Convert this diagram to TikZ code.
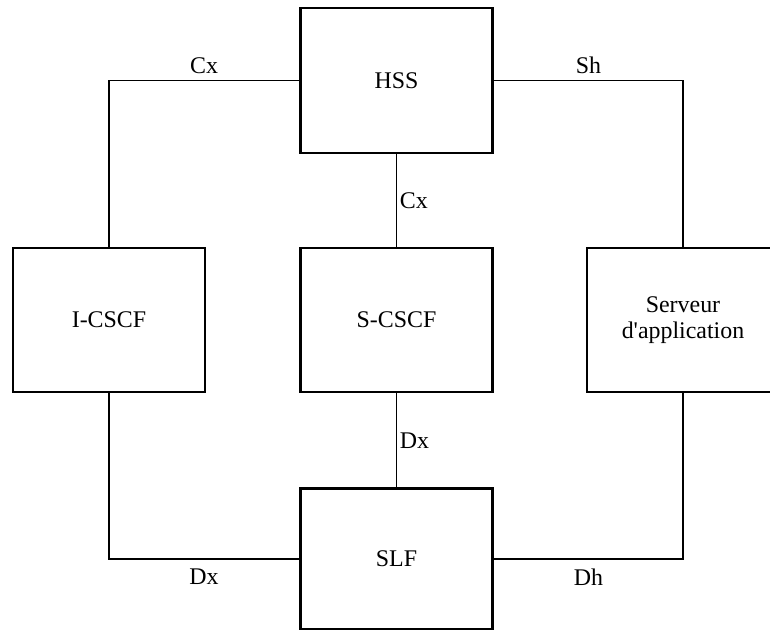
\documentclass[tikz,border=0pt]{standalone}
\usepackage{fontspec}
\setmainfont{Liberation Serif}
\usetikzlibrary{positioning}
\tikzset{
  entity/.style={draw, line width=2pt, minimum width=4.8cm, minimum height=3.625cm, align=center, font=\fontsize{17}{18.5}\selectfont},
  link/.style={line width=0.8pt},
  iface/.style={font=\fontsize{17}{18.5}\selectfont}
}

\begin{document}
\begin{tikzpicture}[x=0.025cm, y=-0.025cm]
		%%%%% START %%%%%
		\useasboundingbox (0, 0) rectangle (770, 630);
		
		\node[entity] (hss) at (396.5, 80.5) {HSS};
		\node[entity, minimum height=3.6cm] (icscf) at (109, 320) {I-CSCF};
		\node[entity, minimum height=3.6cm] (scscf) at (396.5, 320) {S-CSCF};
		\node[entity, minimum height=3.6cm] (as) at (683, 320) {Serveur\\d\textquotesingle application};
		\node[entity, minimum height=3.525cm] (slf) at (396.5, 559) {SLF};
		
		\draw[link] (hss.west) -| node[iface, pos=0.25, above=1pt] {Cx} (icscf.north);
		\draw[link] (hss.east) -| node[iface, pos=0.25, above=1pt] {Sh} (as.north);
		\draw[link] (hss.south) -- node[iface, right, inner sep=2pt] {Cx} (scscf.north);
		\draw[link] (scscf.south) -- node[iface, right, inner sep=2pt] {Dx} (slf.north);
		\draw[link] (slf.west) -| node[iface, pos=0.25, below=3.5pt] {Dx} (icscf.south);
		\draw[link] (slf.east) -| node[iface, pos=0.25, below=3.5pt] {Dh} (as.south);
		%%%%% END %%%%%
\end{tikzpicture}
\end{document}
